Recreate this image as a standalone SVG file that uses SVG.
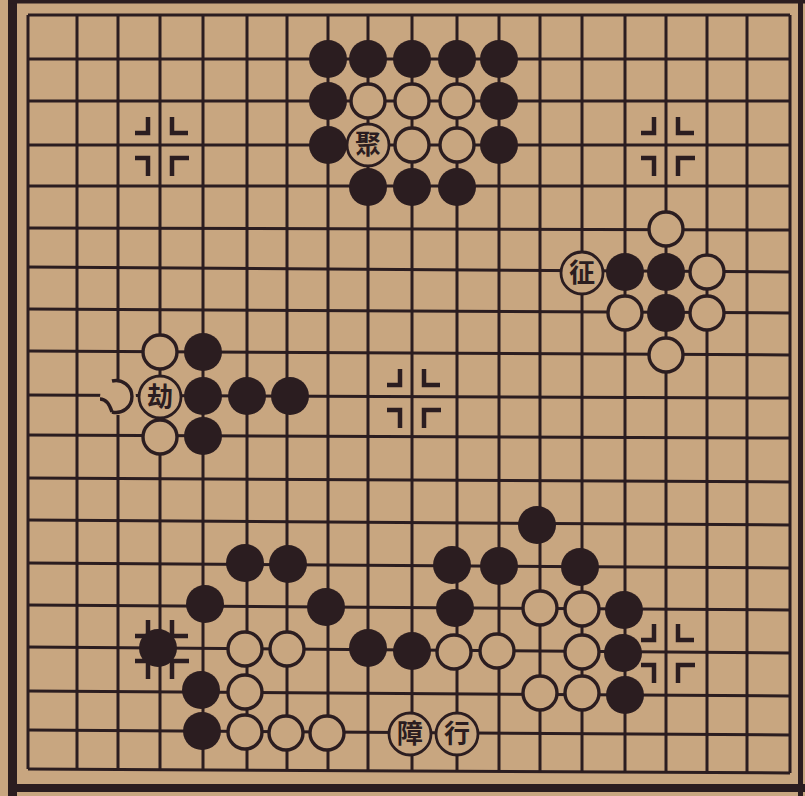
<svg xmlns="http://www.w3.org/2000/svg" width="805" height="796" viewBox="0 0 805 796">
<defs>
<style>
.grid path{stroke:#2b1d20;stroke-width:3;fill:none}
.b{fill:#2b1d20}
.w{fill:#c8a680;stroke:#2b1d20;stroke-width:3.4}
.l{fill:#c8a680;stroke:#2b1d20;stroke-width:2.8}
.t{font-family:"Noto Sans CJK TC","Noto Sans CJK SC",sans-serif;font-size:26px;font-weight:700;fill:#2b1d20;text-anchor:middle}
.frame{stroke:#2b1d20;fill:none}
</style>
<g id="star">
<path d="M-12,-28V-12H-25M12,-28V-12H28M-25,13H-12V31M12,31V13H29" stroke="#2b1d20" stroke-width="4.5" fill="none"/>
</g>
</defs>
<rect x="0" y="0" width="805" height="796" fill="#c8a680"/>
<g id="frame" class="frame">
<line x1="12.5" y1="0" x2="12.5" y2="796" stroke-width="9"/>
<line x1="8" y1="1.5" x2="805" y2="1.5" stroke-width="4"/>
<line x1="800.5" y1="0" x2="800.5" y2="796" stroke-width="5"/>
<line x1="8" y1="788" x2="805" y2="788" stroke-width="8"/>
</g>
<g id="connectors" class="grid">
<path d="M28,15L790,15M28,59L790,59M28,101L790,101M28,145L790,145M28,186L790,186M28,228L790,230M28,267L790,272M28,309L790,313M28,351L790,355M28,395L790,398M28,435L790,438M28,478L790,482M28,520L790,525M28,563L790,568M28,605L790,610M28,647L790,653M28,691L790,696M28,730L790,735M28,769L790,773"/>
<path d="M28,15V769M77,15V769M118,15V770M160,15V770M203,15V770M247,15V770M287,15V770M328,15V771M368,15V771M412,15V771M457,15V771M499,15V771M540,15V772M582,15V772M625,15V772M666,15V772M707,15V773M747,15V773M790,15V773"/>
</g>
<g id="stars">
<use href="#star" x="160" y="145"/>
<use href="#star" x="666" y="145"/>
<use href="#star" x="412" y="397"/>
<use href="#star" x="160" y="648"/>
<use href="#star" x="666" y="652"/>
</g>
<g id="top-group">
<circle class="b" cx="328" cy="59" r="19"/><circle class="b" cx="368" cy="59" r="19"/><circle class="b" cx="412" cy="59" r="19"/><circle class="b" cx="457" cy="59" r="19"/><circle class="b" cx="499" cy="59" r="19"/>
<circle class="b" cx="328" cy="101" r="19"/><circle class="w" cx="368" cy="101" r="17"/><circle class="w" cx="412" cy="101" r="17"/><circle class="w" cx="457" cy="101" r="17"/><circle class="b" cx="499" cy="101" r="19"/>
<circle class="b" cx="328" cy="145" r="19"/><circle class="w" cx="412" cy="145" r="17"/><circle class="w" cx="457" cy="145" r="17"/><circle class="b" cx="499" cy="145" r="19"/>
<circle class="b" cx="368" cy="187" r="19"/><circle class="b" cx="412" cy="187" r="19"/><circle class="b" cx="457" cy="187" r="19"/>
<g id="label-ju"><circle class="l" cx="368" cy="145" r="21"/><text class="t" x="368" y="154">聚</text></g>
</g>
<g id="right-group">
<circle class="w" cx="666" cy="229" r="17"/>
<circle class="b" cx="625" cy="272" r="19"/><circle class="b" cx="666" cy="272" r="19"/><circle class="w" cx="707" cy="272" r="17"/>
<circle class="w" cx="625" cy="313" r="17"/><circle class="b" cx="666" cy="313" r="19"/><circle class="w" cx="707" cy="313" r="17"/>
<circle class="w" cx="666" cy="355" r="17"/>
<g id="label-zheng"><circle class="l" cx="582" cy="273" r="21"/><text class="t" x="582" y="282">征</text></g>
</g>
<g id="left-group">
<circle class="w" cx="160" cy="352" r="17"/><circle class="b" cx="203" cy="352" r="19"/>
<circle cx="118" cy="397" r="18" fill="#c8a680"/>
<path d="M112,381A16,16 0 1 1 112,412M100,399Q108,399 112,412" stroke="#2b1d20" stroke-width="3.4" fill="none"/>
<circle class="b" cx="203" cy="396" r="19"/><circle class="b" cx="247" cy="396" r="19"/><circle class="b" cx="290" cy="396" r="19"/>
<circle class="w" cx="160" cy="437" r="17"/><circle class="b" cx="203" cy="436" r="19"/>
<g id="label-jie"><circle class="l" cx="160" cy="397" r="21"/><text class="t" x="160" y="406">劫</text></g>
</g>
<g id="bottom-group">
<circle class="b" cx="537" cy="525" r="19"/>
<circle class="b" cx="245" cy="563" r="19"/><circle class="b" cx="288" cy="564" r="19"/><circle class="b" cx="452" cy="565" r="19"/><circle class="b" cx="499" cy="566" r="19"/><circle class="b" cx="580" cy="567" r="19"/>
<circle class="b" cx="205" cy="604" r="19"/><circle class="b" cx="326" cy="607" r="19"/><circle class="b" cx="455" cy="608" r="19"/><circle class="w" cx="540" cy="608" r="17"/><circle class="w" cx="582" cy="609" r="17"/><circle class="b" cx="624" cy="610" r="19"/>
<circle class="b" cx="158" cy="648" r="19"/><circle class="w" cx="245" cy="649" r="17"/><circle class="w" cx="287" cy="649" r="17"/><circle class="b" cx="368" cy="648" r="19"/><circle class="b" cx="412" cy="651" r="19"/><circle class="w" cx="454" cy="652" r="17"/><circle class="w" cx="497" cy="651" r="17"/><circle class="w" cx="582" cy="652" r="17"/><circle class="b" cx="623" cy="653" r="19"/>
<circle class="b" cx="201" cy="690" r="19"/><circle class="w" cx="245" cy="692" r="17"/><circle class="w" cx="540" cy="693" r="17"/><circle class="w" cx="582" cy="693" r="17"/><circle class="b" cx="625" cy="695" r="19"/>
<circle class="b" cx="202" cy="731" r="19"/><circle class="w" cx="245" cy="732" r="17"/><circle class="w" cx="286" cy="733" r="17"/><circle class="w" cx="327" cy="733" r="17"/>
<g id="label-zhang"><circle class="l" cx="410" cy="734" r="21"/><text class="t" x="410" y="743">障</text></g>
<g id="label-xing"><circle class="l" cx="457" cy="734" r="21"/><text class="t" x="457" y="743">行</text></g>
</g>
</svg>
